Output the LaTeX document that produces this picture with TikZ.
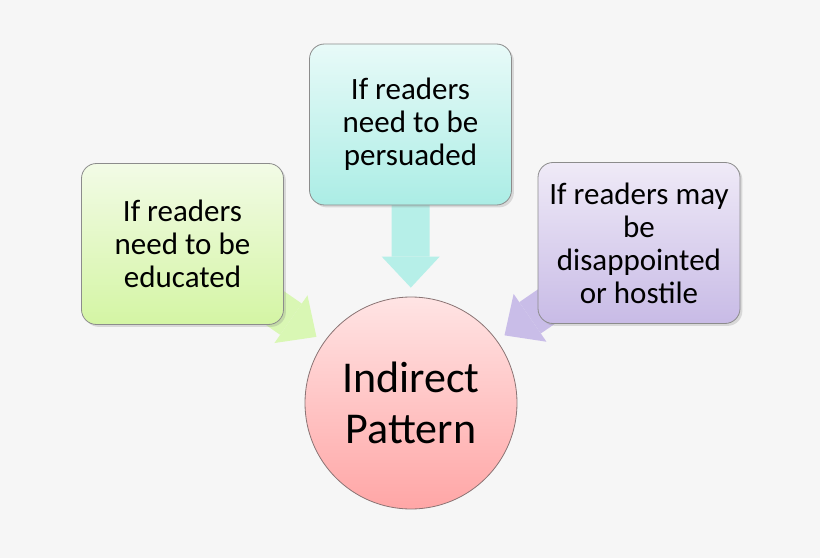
\documentclass[tikz,border=0pt]{standalone}
\usepackage{fontspec}
\setmainfont{Carlito}
\usetikzlibrary{arrows.meta, shadows, backgrounds}

\definecolor{bgcol}{HTML}{F6F6F6}
\definecolor{boxline}{HTML}{8C8C8C}
\definecolor{cyTop}{HTML}{E8FAF8}
\definecolor{cyBot}{HTML}{ABEDE5}
\definecolor{cyArrow}{HTML}{B6EFE8}
\definecolor{grTop}{HTML}{F2FBE6}
\definecolor{grBot}{HTML}{D4F5A4}
\definecolor{grArrow}{HTML}{D9F7B4}
\definecolor{lvTop}{HTML}{EFEAF7}
\definecolor{lvBot}{HTML}{C8BBE6}
\definecolor{lvArrow}{HTML}{C9BDE8}
\definecolor{pkTop}{HTML}{FFE4E4}
\definecolor{pkBot}{HTML}{FFA6A6}
\definecolor{pkLine}{HTML}{8A7474}

\begin{document}
\begin{tikzpicture}[x=1pt, y=1pt, font=\fontsize{15.5}{16.5}\selectfont]
                \tikzstyle{box}=[draw=boxline, thin, rounded corners=7.5pt, minimum width=101pt, minimum height=80.5pt, align=center, text=black, drop shadow={shadow xshift=1.2pt, shadow yshift=-1.2pt, opacity=0.25}]
                \tikzstyle{blockarrow}=[line width=19pt, -{Triangle[width=29pt, length=15.5pt, line width=0pt]}, shorten >=4.5pt]

                \useasboundingbox (0,0) rectangle (410,279);

                \node[box, top color=cyTop, bottom color=cyBot] at (205.25, 216.75) (persuaded) {If readers\\need to be\\persuaded};
                \node[box, top color=grTop, bottom color=grBot] at (91.25, 157) (educated) {If readers\\need to be\\educated};
                \node[box, top color=lvTop, bottom color=lvBot] at (319.5, 157.5) (hostile) {If readers may\\be\\disappointed\\or hostile};
                \node[circle, draw=pkLine, thin, minimum size=106pt, top color=pkTop, bottom color=pkBot, align=center, font=\fontsize{22}{25.5}\selectfont] at (205.5, 77.5) (pattern) {Indirect\\Pattern};

                \begin{scope}[on background layer]
                \fill[bgcol] (0,0) rectangle (410,279);
                \path
                (persuaded.center) edge[blockarrow, draw=cyArrow] (pattern)
                (educated.center) edge[blockarrow, draw=grArrow] (pattern.145)
                (hostile.center) edge[blockarrow, draw=lvArrow] (pattern.36);
                \end{scope}
            \end{tikzpicture}
\end{document}
